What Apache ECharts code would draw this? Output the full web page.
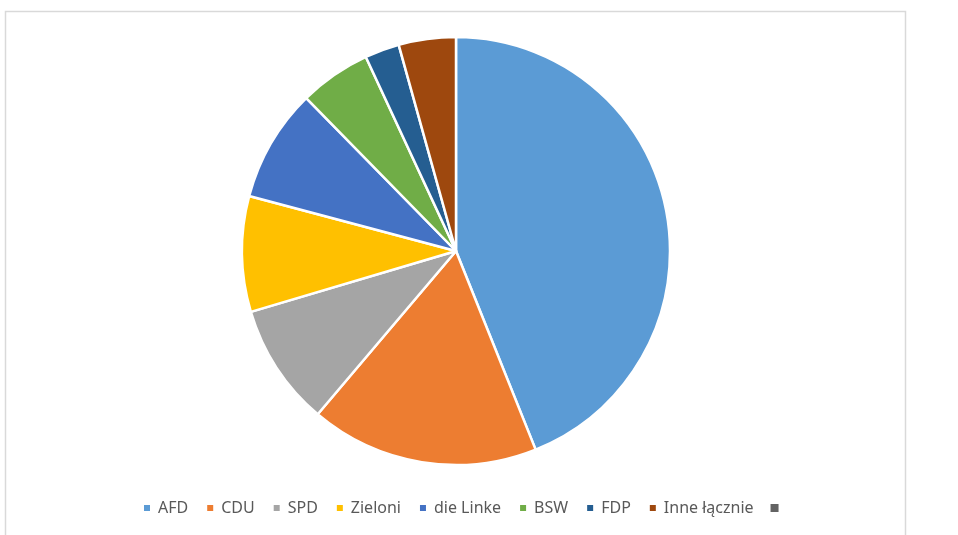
<!DOCTYPE html>
<html>
<head>
<meta charset="utf-8">
<script src="https://cdn.jsdelivr.net/npm/echarts@6/dist/echarts.min.js"></script>
<style>
  html, body { margin: 0; padding: 0; background: #fff; }
  #chart { width: 958px; height: 535px; }
</style>
</head>
<body>
<div id="chart"></div>
<script>
// partie i ich udział
const parties = ['AFD', 'CDU', 'SPD', 'Zieloni', 'die Linke', 'BSW', 'FDP', 'Inne łącznie', ' '];
const shares = [43.8, 17.2, 9.2, 8.7, 8.5, 5.4, 2.6, 4.3, 0];
const colors = ['#5B9BD5', '#ED7D31', '#A5A5A5', '#FFC000', '#4472C4', '#70AD47', '#255E91', '#9E480E', '#636363'];

const chart = echarts.init(document.getElementById('chart'), null, { renderer: 'canvas' });

const option = {
    animation: false,
    color: colors,
    // ramka wykresu jak w Excelu
    graphic: [{
        type: 'polyline',
        silent: true,
        shape: { points: [[5.5, 540], [5.5, 11.5], [905.5, 11.5], [905.5, 540]] },
        style: { stroke: '#d9d9d9', lineWidth: 1.5, fill: null }
    }],
    legend: {
        bottom: 14,
        left: 137,
        icon: 'rect',
        itemWidth: 8,
        itemHeight: 8,
        itemGap: 17,
        selectedMode: false,
        data: parties,
        textStyle: {
            fontFamily: 'Noto Sans',
            fontSize: 16,
            color: '#595959',
            padding: [0, 0, 0, 2]
        }
    },
    series: [{
        type: 'pie',
        center: [456, 251],
        radius: 214,
        startAngle: 90,
        clockwise: true,
        label: { show: false },
        labelLine: { show: false },
        emphasis: { disabled: true },
        itemStyle: { borderColor: '#fff', borderWidth: 2.5 },
        data: parties.map((name, i) => ({
            name: name,
            value: shares[i],
            itemStyle: shares[i] === 0 ? { borderWidth: 0 } : undefined
        }))
    }]
};

chart.setOption(option);
window.addEventListener('resize', () => chart.resize());
</script>
</body>
</html>
